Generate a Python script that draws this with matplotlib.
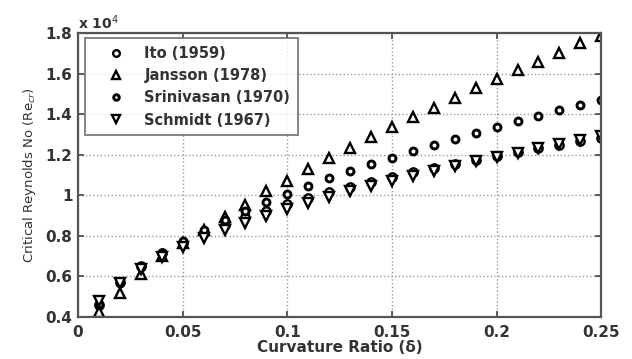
import matplotlib
matplotlib.use("Agg")
import matplotlib.pyplot as plt

delta = [0.01, 0.02, 0.03, 0.04, 0.05, 0.06, 0.07, 0.08, 0.09, 0.10,
         0.11, 0.12, 0.13, 0.14, 0.15, 0.16, 0.17, 0.18, 0.19, 0.20,
         0.21, 0.22, 0.23, 0.24, 0.25]

ito = [0.458, 0.572, 0.651, 0.714, 0.767, 0.813, 0.854, 0.891, 0.925, 0.957,
       0.987, 1.015, 1.041, 1.066, 1.090, 1.113, 1.134, 1.155, 1.176, 1.195,
       1.214, 1.232, 1.250, 1.267, 1.283]

jansson = [0.425, 0.52, 0.612, 0.70, 0.763, 0.828, 0.893, 0.953, 1.02, 1.072,
           1.128, 1.182, 1.235, 1.289, 1.338, 1.385, 1.432, 1.478, 1.528, 1.572,
           1.618, 1.659, 1.703, 1.749, 1.785]

srinivasan = [0.462, 0.566, 0.646, 0.714, 0.774, 0.827, 0.877, 0.923, 0.966, 1.007,
              1.046, 1.083, 1.119, 1.153, 1.186, 1.218, 1.249, 1.279, 1.308, 1.337,
              1.365, 1.392, 1.419, 1.445, 1.470]

schmidt = [0.479, 0.570, 0.638, 0.695, 0.744, 0.788, 0.828, 0.865, 0.899, 0.932,
           0.963, 0.992, 1.020, 1.047, 1.072, 1.097, 1.121, 1.144, 1.167, 1.189,
           1.210, 1.231, 1.251, 1.271, 1.290]

labels = ["Ito (1959)", "Jansson (1978)", "Srinivasan (1970)", "Schmidt (1967)"]
xticks = [0, 0.05, 0.1, 0.15, 0.2, 0.25]
xticklabels = ["0", "0.05", "0.1", "0.15", "0.2", "0.25"]
yticks = [0.4, 0.6, 0.8, 1.0, 1.2, 1.4, 1.6, 1.8]
yticklabels = ["0.4", "0.6", "0.8", "1", "1.2", "1.4", "1.6", "1.8"]

plt.rcParams['font.family'] = ['DejaVu Sans']

fig = plt.figure(figsize=(6.32, 3.59), dpi=100)
ax = fig.add_axes([0.1234, 0.117, 0.828, 0.791])

common = dict(linestyle='none', markeredgecolor='black', markerfacecolor='white',
              markeredgewidth=1.7)
ax.plot(delta, ito, marker='o', markersize=6, label=labels[0], **common)
ax.plot(delta, jansson, marker='^', markersize=6.5, label=labels[1], **common)
ax.plot(delta, srinivasan, marker='o', markersize=5, label=labels[2],
        linestyle='none', markeredgecolor='black', markerfacecolor='white',
        markeredgewidth=2.1)
ax.plot(delta, schmidt, marker='v', markersize=6.5, label=labels[3], **common)

ax.set_xlim(0, 0.25)
ax.set_ylim(0.4, 1.8)
ax.set_xticks(xticks)
ax.set_xticklabels(xticklabels)
ax.set_yticks(yticks)
ax.set_yticklabels(yticklabels)
ax.tick_params(direction='in', top=True, right=True, labelsize=11, length=4,
               width=1.2, colors='#444444', labelcolor='#333333')
ax.tick_params(axis='x', pad=6)
ax.tick_params(axis='y', pad=4)
for lab in ax.get_xticklabels() + ax.get_yticklabels():
    lab.set_fontweight('bold')
ax.grid(True, linestyle=':', color='#999999', linewidth=1.0)
for s in ax.spines.values():
    s.set_color('#555555')
    s.set_linewidth(1.6)

ax.set_xlabel("Curvature Ratio (\u03b4)", fontsize=11, fontweight='bold',
              color='#333333', labelpad=0)
ax.set_ylabel("Critical Reynolds No (Re$_{cr}$)", fontsize=9.5, fontweight='normal',
              color='#333333', labelpad=5)
ax.text(0.0, 1.005, "x 10$^4$", transform=ax.transAxes, fontsize=10,
        fontweight='bold', color='#333333', ha='left', va='bottom')

leg = ax.legend(loc='upper left', bbox_to_anchor=(0.0134, 0.981), fontsize=10.5,
                frameon=True, fancybox=False, edgecolor='#666666',
                borderpad=0.5, labelspacing=0.5, handletextpad=0.37,
                handlelength=3.2, borderaxespad=0, markerscale=0.8)
leg.get_frame().set_linewidth(1.4)
for t in leg.get_texts():
    t.set_fontweight('bold')
    t.set_color('#333333')

fig.savefig("out.png", dpi=100)
